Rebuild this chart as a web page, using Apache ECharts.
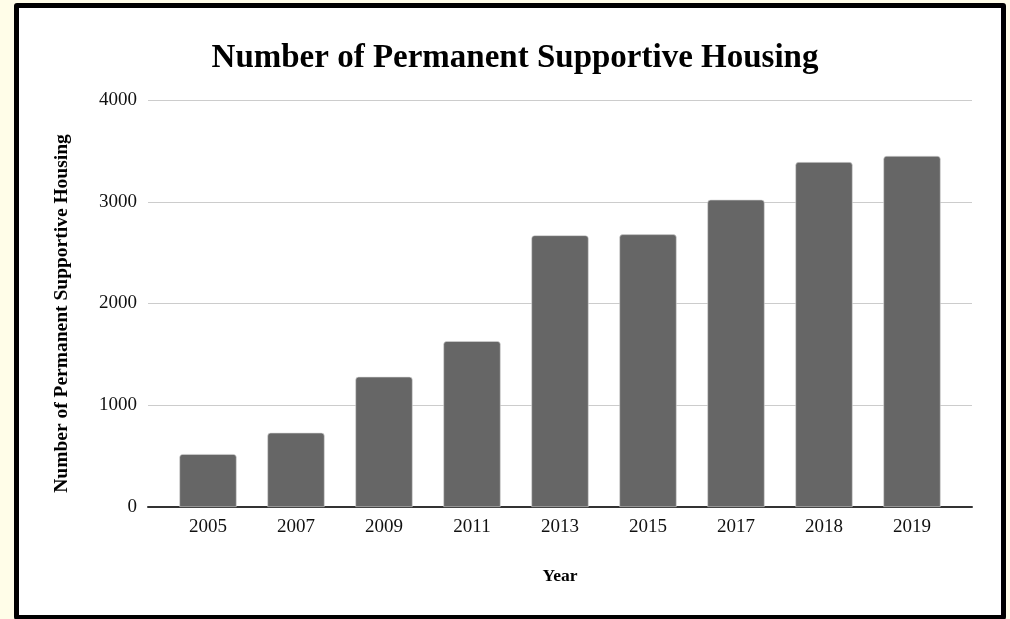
<!DOCTYPE html>
<html>
<head>
<meta charset="utf-8">
<script src="https://cdn.jsdelivr.net/npm/echarts@6/dist/echarts.min.js"></script>
<style>
  html, body { margin: 0; padding: 0; background: #fffde8; width: 1010px; height: 619px; overflow: hidden; }
  #frame { position: absolute; left: 14px; top: 3px; width: 982px; height: 607px; border: 5px solid #000; background: #fff; border-radius: 3px; }
  #chart { position: absolute; left: 0; top: 0; width: 1010px; height: 619px; }
</style>
</head>
<body>
<div id="frame"></div>
<div id="chart"></div>
<script>
// Years surveyed and permanent supportive housing counts
const years = ['2005', '2007', '2009', '2011', '2013', '2015', '2017', '2018', '2019'];
const housingCounts = [520, 730, 1280, 1630, 2670, 2680, 3020, 3390, 3450];
const yTicks = { min: 0, max: 4000, interval: 1000 };

const serif = '"Liberation Serif", "Times New Roman", serif';
const chart = echarts.init(document.getElementById('chart'), null, { renderer: 'canvas' });

chart.setOption({
  backgroundColor: 'transparent',
  animation: false,
  title: {
    text: 'Number of Permanent Supportive Housing',
    left: 510,
    textAlign: 'center',
    top: 37,
    textStyle: { fontFamily: serif, fontSize: 33, fontWeight: 'bold', color: '#000' }
  },
  // grid 0: full-width frame carrying gridlines, value labels and baseline
  // grid 1: inset band where the bars sit
  grid: [
    { left: 148, right: 38, top: 100, bottom: 112 },
    { left: 164, right: 54, top: 100, bottom: 112 }
  ],
  xAxis: [
    {
      type: 'value', gridIndex: 0, min: 0, max: 1,
      axisLine: { show: true, onZero: false, lineStyle: { color: '#333', width: 2 } },
      axisTick: { show: false }, axisLabel: { show: false }, splitLine: { show: false }
    },
    {
      type: 'category', gridIndex: 1,
      data: years,
      name: 'Year',
      nameLocation: 'middle',
      nameGap: 60,
      nameTextStyle: { fontFamily: serif, fontSize: 17.5, fontWeight: 'bold', color: '#000' },
      axisLine: { show: false },
      axisTick: { show: false },
      axisLabel: { fontFamily: serif, fontSize: 19, color: '#111', margin: 11 }
    }
  ],
  yAxis: [
    {
      type: 'value', gridIndex: 0,
      min: yTicks.min, max: yTicks.max, interval: yTicks.interval,
      name: 'Number of Permanent Supportive Housing',
      nameLocation: 'middle',
      nameGap: 76,
      nameTextStyle: { fontFamily: serif, fontSize: 19.5, fontWeight: 'bold', color: '#000', padding: [0, 20, 0, 0] },
      axisLine: { show: false },
      axisTick: { show: false },
      axisLabel: { fontFamily: serif, fontSize: 19, color: '#111', margin: 11, formatter: v => String(v) },
      splitLine: { lineStyle: { color: '#cccccc', width: 1 } }
    },
    {
      type: 'value', gridIndex: 1,
      min: yTicks.min, max: yTicks.max, interval: yTicks.interval,
      show: false
    }
  ],
  series: [{
    type: 'bar',
    xAxisIndex: 1,
    yAxisIndex: 1,
    data: housingCounts,
    barWidth: '65%',
    itemStyle: { color: '#666666', borderColor: '#d8d8d8', borderWidth: 0.6, borderRadius: [3, 3, 0, 0] }
  }]
});
</script>
</body>
</html>
